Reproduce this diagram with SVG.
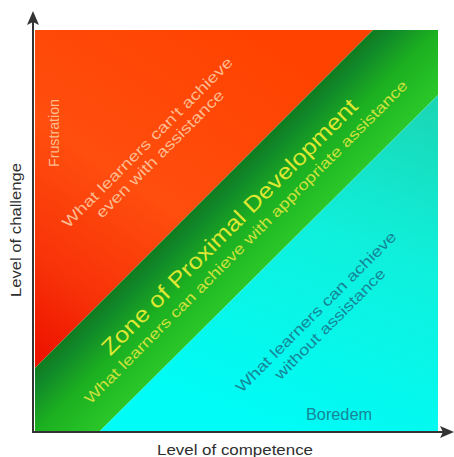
<svg xmlns="http://www.w3.org/2000/svg" width="454" height="457" viewBox="0 0 454 457">
  <style>
    text { font-family: "Liberation Sans", Arial, sans-serif; }
    .axis { stroke: #333; stroke-width: 2; fill: none; }
    .axis-label { font-size: 15px; fill: #2e2e2e; }
    .lbl-red { font-size: 15px; fill: #ffbc90; }
    .lbl-zpd { font-size: 22px; fill: #dde832; }
    .lbl-zpd-sub { font-size: 15px; fill: #cde23c; }
    .lbl-cyan { font-size: 15px; fill: #168598; }
  </style>
  <defs>
    <linearGradient id="gRed" gradientUnits="userSpaceOnUse" x1="260" y1="40" x2="50" y2="360">
      <stop offset="0" stop-color="#ff4200"/>
      <stop offset="0.5" stop-color="#ff4e0e"/>
      <stop offset="0.8" stop-color="#f83208"/>
      <stop offset="1" stop-color="#ee1400"/>
    </linearGradient>
    <linearGradient id="gGreen" gradientUnits="userSpaceOnUse" x1="201.5" y1="201.5" x2="266.5" y2="266.5">
      <stop offset="0" stop-color="#0f7c1e"/>
      <stop offset="0.15" stop-color="#11882a"/>
      <stop offset="0.5" stop-color="#1cb020"/>
      <stop offset="1" stop-color="#2ac82a"/>
    </linearGradient>
    <linearGradient id="gCyan" gradientUnits="userSpaceOnUse" x1="420" y1="95" x2="300" y2="430">
      <stop offset="0" stop-color="#1ad6b4"/>
      <stop offset="0.45" stop-color="#0ff0dc"/>
      <stop offset="1" stop-color="#00fcf6"/>
    </linearGradient>
  </defs>

  <!-- regions of the chart -->
  <g id="zone-frustration">
    <polygon points="35,30 373,30 35,368" fill="url(#gRed)"/>
  </g>
  <g id="zone-proximal">
    <polygon points="373,30 438,30 438,95 100,431 35,431 35,368" fill="url(#gGreen)"/>
  </g>
  <g id="zone-boredom">
    <polygon points="438,95 438,431 100,431" fill="url(#gCyan)"/>
  </g>

  <!-- region labels -->
  <g id="label-frustration">
    <text class="lbl-red" transform="translate(54,133) rotate(-90)" x="0" y="5" text-anchor="middle" textLength="68" lengthAdjust="spacingAndGlyphs">Frustration</text>
  </g>
  <g id="label-cant">
    <text class="lbl-red" transform="translate(147.5,142.5) rotate(-45)" x="0" y="5" text-anchor="middle" textLength="234" lengthAdjust="spacingAndGlyphs">What learners can't achieve</text>
    <text class="lbl-red" transform="translate(160,154) rotate(-45)" x="0" y="5" text-anchor="middle" textLength="174" lengthAdjust="spacingAndGlyphs">even with assistance</text>
  </g>
  <g id="label-zpd">
    <text class="lbl-zpd" transform="translate(229,226.5) rotate(-45)" x="0" y="8" text-anchor="middle" textLength="352" lengthAdjust="spacingAndGlyphs">Zone of Proximal Development</text>
    <text class="lbl-zpd-sub" transform="translate(246,242) rotate(-45)" x="0" y="5" text-anchor="middle" textLength="450" lengthAdjust="spacingAndGlyphs">What learners can achieve with appropriate assistance</text>
  </g>
  <g id="label-without">
    <text class="lbl-cyan" transform="translate(316,312) rotate(-45)" x="0" y="5" text-anchor="middle" textLength="220" lengthAdjust="spacingAndGlyphs">What learners can achieve</text>
    <text class="lbl-cyan" transform="translate(330,324) rotate(-45)" x="0" y="5" text-anchor="middle" textLength="150" lengthAdjust="spacingAndGlyphs">without assistance</text>
  </g>
  <g id="label-boredom">
    <text class="lbl-cyan" x="339" y="420" style="font-size:17px" text-anchor="middle" textLength="66" lengthAdjust="spacingAndGlyphs">Boredem</text>
  </g>

  <!-- axes -->
  <g id="connectors">
    <line class="axis" x1="33" y1="22" x2="33" y2="432"/>
    <polygon points="33,11 27,25 33,22 39,25" fill="#333"/>
    <line class="axis" x1="32" y1="432" x2="444" y2="432"/>
    <polygon points="454,432 440,426 443,432 440,438" fill="#333"/>
  </g>

  <!-- axis titles -->
  <g id="label-y-axis">
    <text class="axis-label" transform="translate(16,230) rotate(-90)" x="0" y="5" text-anchor="middle" textLength="134" lengthAdjust="spacingAndGlyphs">Level of challenge</text>
  </g>
  <g id="label-x-axis">
    <text class="axis-label" x="235" y="455" text-anchor="middle" textLength="156" lengthAdjust="spacingAndGlyphs">Level of competence</text>
  </g>
</svg>
